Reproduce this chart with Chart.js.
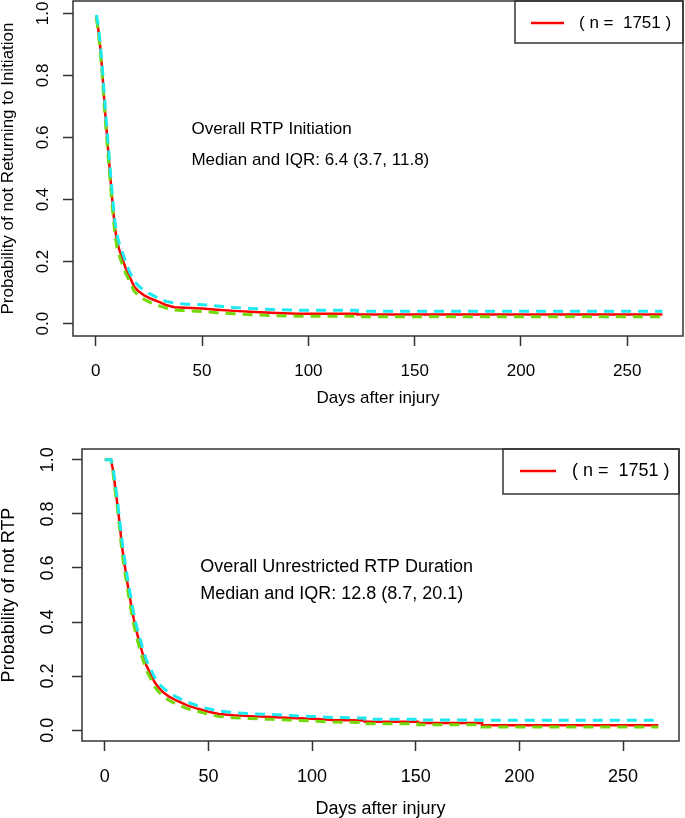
<!DOCTYPE html>
<html>
<head>
<meta charset="utf-8">
<script src="https://cdn.jsdelivr.net/npm/chart.js@4.4.1/dist/chart.umd.min.js"></script>
<style>
  body { margin: 0; background: #fff; }
  #wrap { position: relative; width: 685px; height: 818px; }
  canvas { position: absolute; left: 0; }
</style>
</head>
<body>
<div id="wrap">
  <canvas id="topChart" width="685" height="410" style="top:0"></canvas>
  <canvas id="bottomChart" width="685" height="408" style="top:410px"></canvas>
</div>
<script>
// tick labels shared by both panels
const xTicks = [0, 50, 100, 150, 200, 250];
const yTicks = [0, 0.2, 0.4, 0.6, 0.8, 1.0];
const legendLabel = "( n =  1751 )";

// top panel: RTP initiation (Kaplan-Meier estimate and 95% bounds)
const initDays = [0.3, 1, 2, 3, 4, 5, 6, 7, 8, 9, 10, 11, 12, 14, 16, 18, 20, 23, 26, 30, 33, 37, 42, 50, 57, 65, 75, 85, 95, 123, 123, 266.5];
const initSurv = [0.99, 0.96, 0.9, 0.82, 0.72, 0.63, 0.545, 0.46, 0.38, 0.31, 0.265, 0.24, 0.22, 0.18, 0.15, 0.12, 0.105, 0.09, 0.08, 0.069, 0.06, 0.053, 0.051, 0.049, 0.045, 0.041, 0.037, 0.034, 0.032, 0.032, 0.029, 0.029];
const initUpper = [0.995, 0.97, 0.91, 0.835, 0.74, 0.65, 0.565, 0.48, 0.4, 0.33, 0.285, 0.26, 0.24, 0.2, 0.165, 0.138, 0.122, 0.105, 0.094, 0.08, 0.072, 0.066, 0.063, 0.061, 0.057, 0.052, 0.048, 0.045, 0.043, 0.043, 0.04, 0.04];
const initLower = [0.985, 0.95, 0.885, 0.805, 0.7, 0.61, 0.525, 0.44, 0.36, 0.29, 0.245, 0.22, 0.2, 0.163, 0.135, 0.105, 0.09, 0.077, 0.067, 0.057, 0.05, 0.044, 0.041, 0.039, 0.035, 0.032, 0.028, 0.025, 0.024, 0.024, 0.022, 0.022];
const initNotes = ["Overall RTP Initiation", "Median and IQR: 6.4 (3.7, 11.8)"];

// bottom panel: unrestricted RTP duration
const durDays = [0, 3, 4, 5, 6, 7, 8, 9, 10, 11, 12, 13, 14, 15, 16, 18, 20, 22, 24, 26, 28, 31, 35, 40, 45, 50, 55, 62, 70, 80, 90, 100, 110, 125.5, 125.5, 151, 151, 182, 182, 267];
const durSurv = [1, 1, 0.96, 0.9, 0.84, 0.775, 0.7, 0.64, 0.59, 0.54, 0.495, 0.45, 0.41, 0.375, 0.345, 0.29, 0.24, 0.21, 0.178, 0.157, 0.141, 0.124, 0.108, 0.091, 0.079, 0.068, 0.06, 0.055, 0.052, 0.049, 0.045, 0.042, 0.038, 0.036, 0.031, 0.031, 0.027, 0.027, 0.018, 0.018];
const durUpper = [1, 1, 0.97, 0.915, 0.855, 0.79, 0.72, 0.66, 0.61, 0.56, 0.515, 0.47, 0.43, 0.395, 0.365, 0.31, 0.26, 0.228, 0.195, 0.173, 0.157, 0.139, 0.121, 0.103, 0.09, 0.079, 0.071, 0.065, 0.061, 0.058, 0.054, 0.051, 0.047, 0.045, 0.04, 0.04, 0.038, 0.038, 0.037, 0.037];
const durLower = [1, 1, 0.95, 0.885, 0.825, 0.76, 0.68, 0.62, 0.57, 0.52, 0.475, 0.43, 0.39, 0.355, 0.325, 0.27, 0.222, 0.192, 0.161, 0.141, 0.126, 0.11, 0.095, 0.079, 0.069, 0.059, 0.051, 0.046, 0.043, 0.04, 0.037, 0.034, 0.03, 0.028, 0.024, 0.024, 0.02, 0.02, 0.012, 0.012];
const durNotes = ["Overall Unrestricted RTP Duration", "Median and IQR: 12.8 (8.7, 20.1)"];

const FONT = "'Liberation Sans', Arial, sans-serif";

function pts(days, vals) {
  return days.map((d, i) => ({ x: d, y: vals[i] }));
}

// box around the plot, legend box and the two text lines
const decorations = {
  id: "decorations",
  afterDraw(chart, args, opts) {
    const { ctx, chartArea: a, scales } = chart;
    ctx.save();
    ctx.strokeStyle = "#333";
    ctx.lineWidth = 1.5;
    ctx.strokeRect(a.left, a.top, a.right - a.left, a.bottom - a.top);

    // legend
    const lx = a.right - opts.legendW;
    ctx.strokeRect(lx, a.top, opts.legendW, opts.legendH);
    const ds = chart.data.datasets[0];
    ctx.strokeStyle = ds.borderColor;
    ctx.lineWidth = 2.5;
    ctx.beginPath();
    ctx.moveTo(lx + opts.lineX0, a.top + 22);
    ctx.lineTo(lx + opts.lineX1, a.top + 22);
    ctx.stroke();
    ctx.fillStyle = "#000";
    ctx.font = opts.fontSize + "px " + FONT;
    ctx.textBaseline = "middle";
    ctx.textAlign = "left";
    ctx.fillText(ds.label, lx + opts.textX, a.top + 22);

    // notes
    const x = scales.x.getPixelForValue(opts.noteX);
    opts.notes.forEach((t, i) => {
      ctx.fillText(t, x, scales.y.getPixelForValue(opts.noteY[i]));
    });
    ctx.restore();
  }
};

function makeChart(id, days, surv, upper, lower, p) {
  const tickFont = { family: FONT, size: p.fontSize };
  return new Chart(document.getElementById(id), {
    type: "line",
    data: {
      datasets: [
        { label: legendLabel, data: pts(days, surv), borderColor: "#ff0000", borderWidth: 2.5, order: 2 },
        { label: "upper", data: pts(days, upper), borderColor: "#1ee8f0", borderWidth: 3, borderDash: [10, 7], order: 1 },
        { label: "lower", data: pts(days, lower), borderColor: "#74d90a", borderWidth: 3, borderDash: [10, 7], order: 1 }
      ]
    },
    options: {
      responsive: false,
      animation: false,
      events: [],
      elements: { point: { radius: 0 }, line: { tension: 0 } },
      layout: { padding: p.padding },
      plugins: {
        legend: { display: false },
        tooltip: { enabled: false },
        decorations: p.deco
      },
      scales: {
        x: {
          type: "linear",
          min: p.xMin, max: p.xMax,
          afterBuildTicks: s => { s.ticks = xTicks.map(v => ({ value: v })); },
          afterFit: s => { s.height = p.xHeight; s.paddingLeft = 0; s.paddingRight = 0; },
          ticks: { font: tickFont, color: "#000", padding: p.xPad, maxRotation: 0 },
          grid: { drawOnChartArea: false, tickLength: 10, tickWidth: 1.5, tickColor: "#333" },
          border: { display: false },
          title: { display: true, text: "Days after injury", font: tickFont, color: "#000", padding: { top: 0, bottom: p.xTitlePad } }
        },
        y: {
          type: "linear",
          min: -0.04, max: 1.04,
          afterBuildTicks: s => { s.ticks = yTicks.map(v => ({ value: v })); },
          afterFit: s => { s.width = p.yWidth; s.paddingTop = 0; s.paddingBottom = 0; },
          ticks: { font: tickFont, color: "#000", padding: p.yPad, minRotation: 90, maxRotation: 90, crossAlign: "center",
                   callback: v => Number(v).toFixed(1) },
          grid: { drawOnChartArea: false, tickLength: 10, tickWidth: 1.5, tickColor: "#333" },
          border: { display: false },
          title: { display: true, text: p.yTitle, font: { family: FONT, size: p.fontSize, lineHeight: 1 }, color: "#000", padding: { top: 0, bottom: 0 } }
        }
      }
    },
    plugins: [decorations]
  });
}

makeChart("topChart", initDays, initSurv, initUpper, initLower, {
  fontSize: 17,
  padding: { left: 0, top: 1, right: 2, bottom: 0 },
  xMin: -10.7, xMax: 276.2,
  xHeight: 74, xPad: 15, xTitlePad: 1,
  yWidth: 73, yPad: 8,
  yTitle: "Probability of not Returning to Initiation",
  deco: { legendW: 168, legendH: 42, lineX0: 16, lineX1: 49, textX: 64, fontSize: 17,
          notes: initNotes, noteX: 45, noteY: [0.627, 0.527] }
});

makeChart("bottomChart", durDays, durSurv, durUpper, durLower, {
  fontSize: 18,
  padding: { left: 0, top: 39, right: 6, bottom: 0 },
  xMin: -11, xMax: 277,
  xHeight: 77, xPad: 15, xTitlePad: -2,
  yWidth: 82, yPad: 11,
  yTitle: "Probability of not RTP",
  deco: { legendW: 176, legendH: 45, lineX0: 17, lineX1: 53, textX: 69, fontSize: 18,
          notes: durNotes, noteX: 46, noteY: [0.605, 0.505] }
});
</script>
</body>
</html>
